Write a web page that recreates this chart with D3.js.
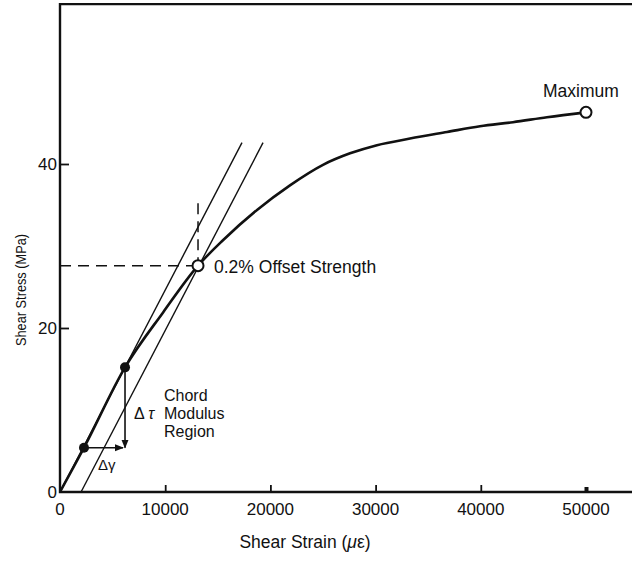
<!DOCTYPE html>
<html>
<head>
<meta charset="utf-8">
<script src="https://cdn.jsdelivr.net/npm/d3@7"></script>
<style>
  body { margin: 0; background: #fff; }
  text { font-family: "Liberation Sans", Arial, Helvetica, sans-serif; fill: #111; }
</style>
</head>
<body>
<div id="chart"></div>
<script>
// stress-strain curve (strain in microstrain, stress in MPa)
var curveStrain = [0, 2280, 6180, 9800, 13120, 15490, 18730, 21860, 25000, 27570, 30130, 33270, 36790, 39920, 43060, 46290, 50000];
var curveStress = [0, 5.4, 15.2, 21.9, 27.6, 30.7, 34.4, 37.4, 39.9, 41.3, 42.3, 43.1, 43.9, 44.6, 45.1, 45.7, 46.3];

// chord modulus line and the 0.2% offset line
var modulusLine = [[0, 0], [17300, 42.6]];
var offsetLine = [[2000, 0], [19300, 42.6]];

// chord modulus region end points
var chordPoints = [[2280, 5.4], [6180, 15.2]];
var offsetPoint = [13120, 27.6];
var maxPoint = [50000, 46.3];

var xTicks = [0, 10000, 20000, 30000, 40000, 50000];
var yTicks = [0, 20, 40];
var chordLabel = ["Chord", "Modulus", "Region"];

var width = 632, height = 567;

var svg = d3.select("#chart").append("svg")
  .attr("width", width)
  .attr("height", height);

var x = d3.scaleLinear().domain([0, 50000]).range([60, 586]);
var y = d3.scaleLinear().domain([0, 40]).range([492, 164]);

var defs = svg.append("defs");
defs.append("marker")
  .attr("id", "arrow")
  .attr("viewBox", "0 0 10 10")
  .attr("refX", 9).attr("refY", 5)
  .attr("markerWidth", 9).attr("markerHeight", 9)
  .attr("markerUnits", "userSpaceOnUse")
  .attr("orient", "auto")
  .append("path")
  .attr("d", "M0,1 L10,5 L0,9 z")
  .attr("fill", "#111");

// frame (right side runs out of the picture)
svg.append("path")
  .attr("d", "M" + (width + 5) + "," + y(59.5) + " H" + x(0) + " V" + y(0) + " H" + (width + 5))
  .attr("fill", "none")
  .attr("stroke", "#111")
  .attr("stroke-width", 2.4);

// axes with inward ticks
var xAxis = svg.append("g")
  .attr("transform", "translate(0," + y(0) + ")")
  .call(d3.axisTop(x).tickValues(xTicks.slice(1)).tickSize(7).tickFormat(""));
xAxis.select(".domain").remove();
xAxis.selectAll("line").attr("stroke", "#111").attr("stroke-width", 1.8);
xAxis.selectAll("line").filter(function(d) { return d === 50000; })
  .attr("stroke-width", 4).attr("y2", -5);

var yAxis = svg.append("g")
  .attr("transform", "translate(" + x(0) + ",0)")
  .call(d3.axisRight(y).tickValues(yTicks.slice(1)).tickSize(9).tickFormat(""));
yAxis.select(".domain").remove();
yAxis.selectAll("line").attr("stroke", "#111").attr("stroke-width", 1.8);

// tick labels
svg.append("g").selectAll("text")
  .data(xTicks)
  .enter().append("text")
  .attr("x", function(d) { return x(d); })
  .attr("y", 515)
  .attr("text-anchor", "middle")
  .attr("font-size", 17)
  .text(function(d) { return d; });

svg.append("g").selectAll("text")
  .data(yTicks)
  .enter().append("text")
  .attr("x", x(0) - 3)
  .attr("y", function(d) { return y(d) + 6; })
  .attr("text-anchor", "end")
  .attr("font-size", 17)
  .text(function(d) { return d; });

// axis titles
var xTitle = svg.append("text")
  .attr("x", 305)
  .attr("y", 548)
  .attr("text-anchor", "middle")
  .attr("font-size", 17.5)
  .text("Shear Strain (");
xTitle.append("tspan").attr("font-style", "italic").text("\u03bc");
xTitle.append("tspan").text("\u03b5)");

svg.append("text")
  .attr("transform", "translate(26,290) rotate(-90)")
  .attr("text-anchor", "middle")
  .attr("font-size", 15)
  .attr("textLength", 112)
  .attr("lengthAdjust", "spacingAndGlyphs")
  .text("Shear Stress (MPa)");

var line = d3.line()
  .x(function(d) { return x(d[0]); })
  .y(function(d) { return y(d[1]); });

// straight modulus lines
[modulusLine, offsetLine].forEach(function(pts) {
  svg.append("path")
    .attr("d", line(pts))
    .attr("fill", "none")
    .attr("stroke", "#111")
    .attr("stroke-width", 1.4);
});

// main curve
var curvePts = curveStrain.map(function(s, i) { return [s, curveStress[i]]; });
var smooth = d3.line()
  .x(function(d) { return x(d[0]); })
  .y(function(d) { return y(d[1]); })
  .curve(d3.curveMonotoneX);
svg.append("path")
  .attr("d", smooth(curvePts))
  .attr("fill", "none")
  .attr("stroke", "#111")
  .attr("stroke-width", 2.6);

// dashed guides to the offset point
svg.append("line")
  .attr("x1", x(0)).attr("y1", y(offsetPoint[1]))
  .attr("x2", x(offsetPoint[0]) - 6).attr("y2", y(offsetPoint[1]))
  .attr("stroke", "#111").attr("stroke-width", 1.5)
  .attr("stroke-dasharray", "11,7");
svg.append("line")
  .attr("x1", x(offsetPoint[0])).attr("y1", y(35.2))
  .attr("x2", x(offsetPoint[0])).attr("y2", y(offsetPoint[1]) - 5)
  .attr("stroke", "#111").attr("stroke-width", 1.5)
  .attr("stroke-dasharray", "11,7");

// delta arrows
svg.append("line")
  .attr("x1", x(chordPoints[1][0])).attr("y1", y(chordPoints[1][1]))
  .attr("x2", x(chordPoints[1][0])).attr("y2", y(chordPoints[0][1]))
  .attr("stroke", "#111").attr("stroke-width", 1.6)
  .attr("marker-end", "url(#arrow)");
svg.append("line")
  .attr("x1", x(chordPoints[0][0])).attr("y1", y(chordPoints[0][1]))
  .attr("x2", x(chordPoints[1][0]) - 2).attr("y2", y(chordPoints[0][1]))
  .attr("stroke", "#111").attr("stroke-width", 1.6)
  .attr("marker-end", "url(#arrow)");

// points
svg.append("g").selectAll("circle")
  .data(chordPoints)
  .enter().append("circle")
  .attr("cx", function(d) { return x(d[0]); })
  .attr("cy", function(d) { return y(d[1]); })
  .attr("r", 5)
  .attr("fill", "#111");

svg.append("g").selectAll("circle")
  .data([offsetPoint, maxPoint])
  .enter().append("circle")
  .attr("cx", function(d) { return x(d[0]); })
  .attr("cy", function(d) { return y(d[1]); })
  .attr("r", 5.5)
  .attr("fill", "#fff")
  .attr("stroke", "#111")
  .attr("stroke-width", 2);

// labels
svg.append("text")
  .attr("x", x(offsetPoint[0]) + 16)
  .attr("y", y(offsetPoint[1]) + 7)
  .attr("font-size", 17.5)
  .text("0.2% Offset Strength");

svg.append("text")
  .attr("x", x(maxPoint[0]) - 43)
  .attr("y", y(maxPoint[1]) - 15)
  .attr("font-size", 17.5)
  .text("Maximum");

svg.append("g").selectAll("text")
  .data(chordLabel)
  .enter().append("text")
  .attr("x", 164)
  .attr("y", function(d, i) { return 401 + i * 18; })
  .attr("font-size", 16)
  .text(function(d) { return d; });

var dTau = svg.append("text")
  .attr("x", 134)
  .attr("y", 419)
  .attr("font-size", 16);
dTau.append("tspan").text("\u0394 ");
dTau.append("tspan").attr("font-style", "italic").text("\u03c4");

svg.append("text")
  .attr("x", 98)
  .attr("y", 470)
  .attr("font-size", 15)
  .text("\u0394\u03b3");
</script>
</body>
</html>
